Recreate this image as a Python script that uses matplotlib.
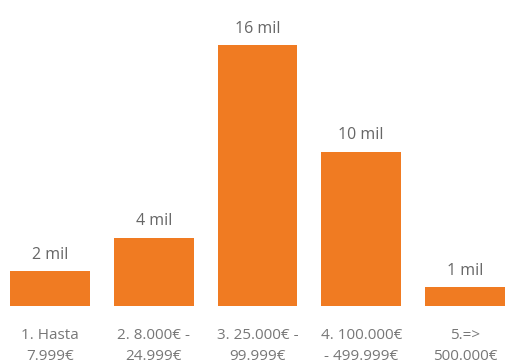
import matplotlib
matplotlib.use("Agg")
import matplotlib.pyplot as plt

categories = ["1. Hasta\n7.999€", "2. 8.000€ -\n24.999€", "3. 25.000€ -\n99.999€",
              "4. 100.000€\n- 499.999€", "5.=>\n500.000€"]
values = [2200, 4300, 16400, 9700, 1200]
labels = ["2 mil", "4 mil", "16 mil", "10 mil", "1 mil"]

plt.rcParams['font.family'] = ['Open Sans', 'DejaVu Sans']

fig = plt.figure(figsize=(5.05, 3.63), dpi=100)
ax = fig.add_axes([0, 57/363, 1, 306/363])
x = list(range(len(values)))
bars = ax.bar(x, values, width=0.771, color="#F07B22")
for xi, v, lab in zip(x, values, labels):
    ax.annotate(lab, (xi, v), xytext=(0, 6), textcoords="offset points",
                ha="center", va="bottom", fontsize=11.5, color="#666666")
ax.set_xlim(-50/103.75, (505-50)/103.75)
ax.set_ylim(0, 306/15.9*1000)
ax.set_xticks(x)
ax.set_xticklabels(categories, fontsize=11, color="#777777", linespacing=1.5)
ax.tick_params(axis="x", length=0, pad=16)
ax.set_yticks([])
for s in ax.spines.values():
    s.set_visible(False)
fig.savefig("out.png", dpi=100)
